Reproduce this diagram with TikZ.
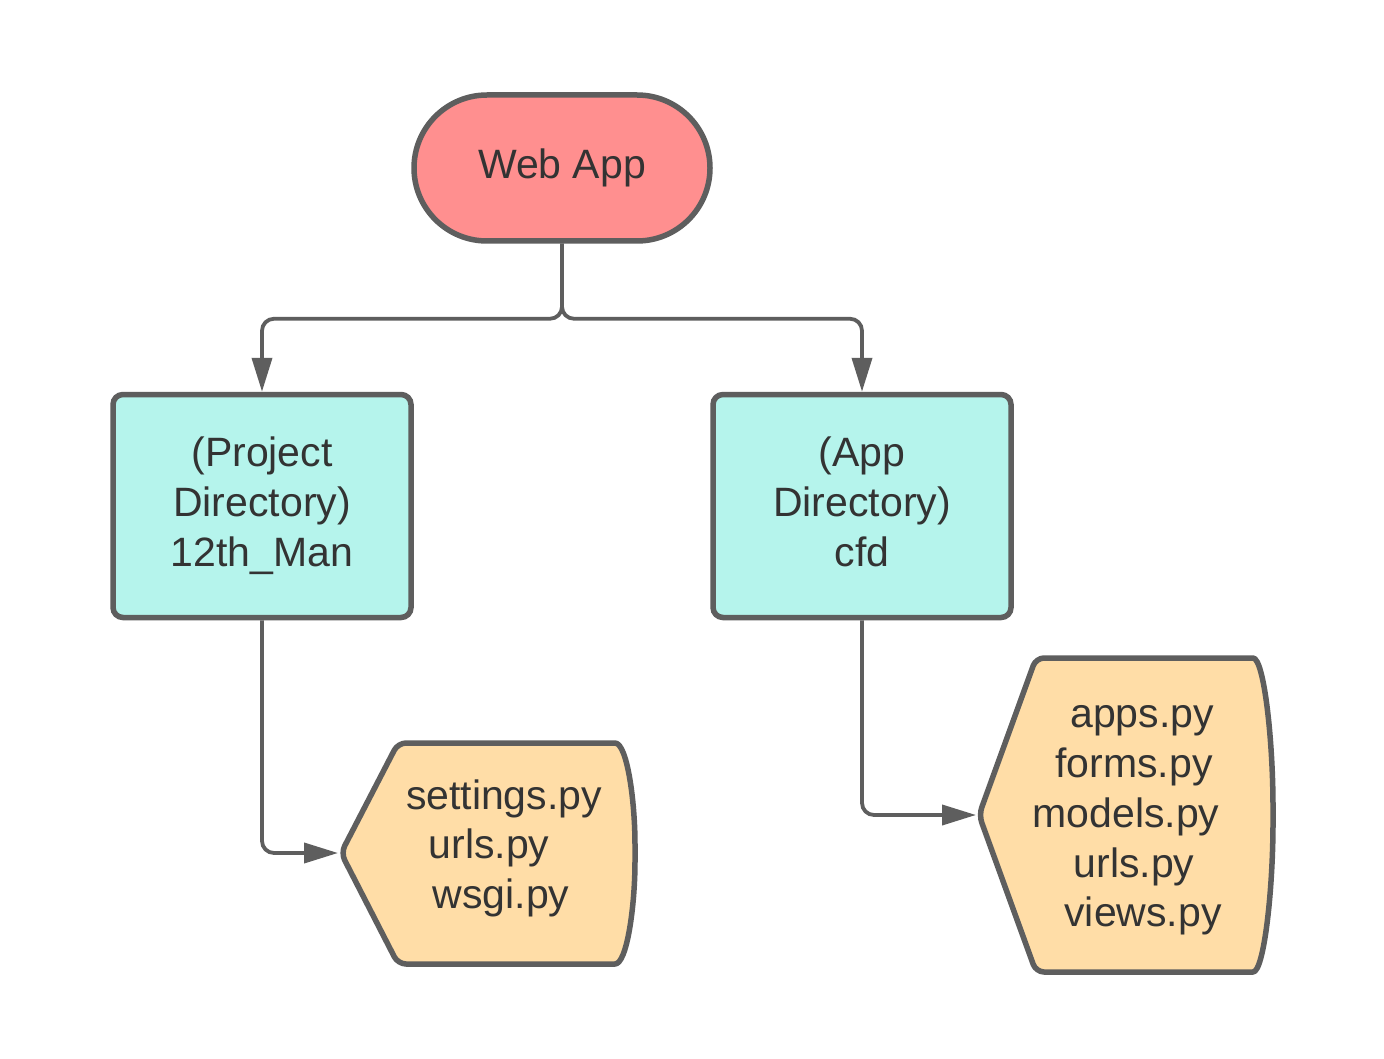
\documentclass[tikz,border=0pt]{standalone}
\usepackage{fontspec}
\setmainfont{Liberation Sans}
\usetikzlibrary{arrows.meta}
\definecolor{edge}{HTML}{5E5E5E}
\definecolor{webfill}{HTML}{FF8F8F}
\definecolor{dirfill}{HTML}{B5F4EC}
\definecolor{filefill}{HTML}{FFDDA7}
\definecolor{txt}{HTML}{333333}
\begin{document}
\begin{tikzpicture}[x=1pt,y=-1pt,
  shapeline/.style={draw=edge, line width=5.5pt},
  lbl/.style={font=\fontsize{41}{50}\selectfont, text=txt},
  webbox/.style={shapeline, fill=webfill, rounded corners=73, minimum width=296, minimum height=146, inner sep=0pt},
  dirbox/.style={shapeline, fill=dirfill, rounded corners=10, minimum width=298, minimum height=223, inner sep=0pt, align=center},
  filebox/.style={shapeline, fill=filefill, rounded corners=8, line join=round},
  conn/.style={draw=edge, line width=3.8pt, rounded corners=12, -{Triangle[length=34pt,width=20pt]}}
]
\useasboundingbox (0,0) rectangle (1384,1059);
\fill[white] (0,0) rectangle (1384,1059);

\node[webbox, lbl] (web) at (562,168) {Web App};
\node[dirbox, lbl] (proj) at (262,506) {(Project\\Directory)\\12th\_Man};
\node[dirbox, lbl] (app) at (862,506) {(App\\Directory)\\cfd\vphantom{\_}};

% file shapes
\draw[filebox] (341,853) -- (398,743) -- (607,743) .. controls (627,743) and (635,800) .. (635,853) .. controls (635,906) and (627,964) .. (607,964) -- (398,964) -- cycle;
\draw[filebox] (979,815) -- (1036,658) -- (1245,658) .. controls (1264,658) and (1273,740) .. (1273,815) .. controls (1273,890) and (1264,972) .. (1245,972) -- (1036,972) -- cycle;
\coordinate (settip) at (338,853);
\coordinate (apptip) at (976,815);

\node[lbl, anchor=base] (s1) at (504,809) {settings.py};
\node[lbl, anchor=base] (s2) at (489,858) {urls.py};
\node[lbl, anchor=base] (s3) at (501,908) {wsgi.py};

\node[lbl, anchor=base] (a1) at (1142,727) {apps.py};
\node[lbl, anchor=base] (a2) at (1134,777) {forms.py};
\node[lbl, anchor=base] (a3) at (1126,827) {models.py};
\node[lbl, anchor=base] (a4) at (1134,877) {urls.py};
\node[lbl, anchor=base] (a5) at (1143,926) {views.py};

% connectors
\draw[conn] (web.south) -- ++(0,75) -| (proj.north);
\draw[conn] (web.south) -- ++(0,75) -| (app.north);
\draw[conn] (proj.south) |- (settip);
\draw[conn] (app.south) |- (apptip);
\end{tikzpicture}
\end{document}
